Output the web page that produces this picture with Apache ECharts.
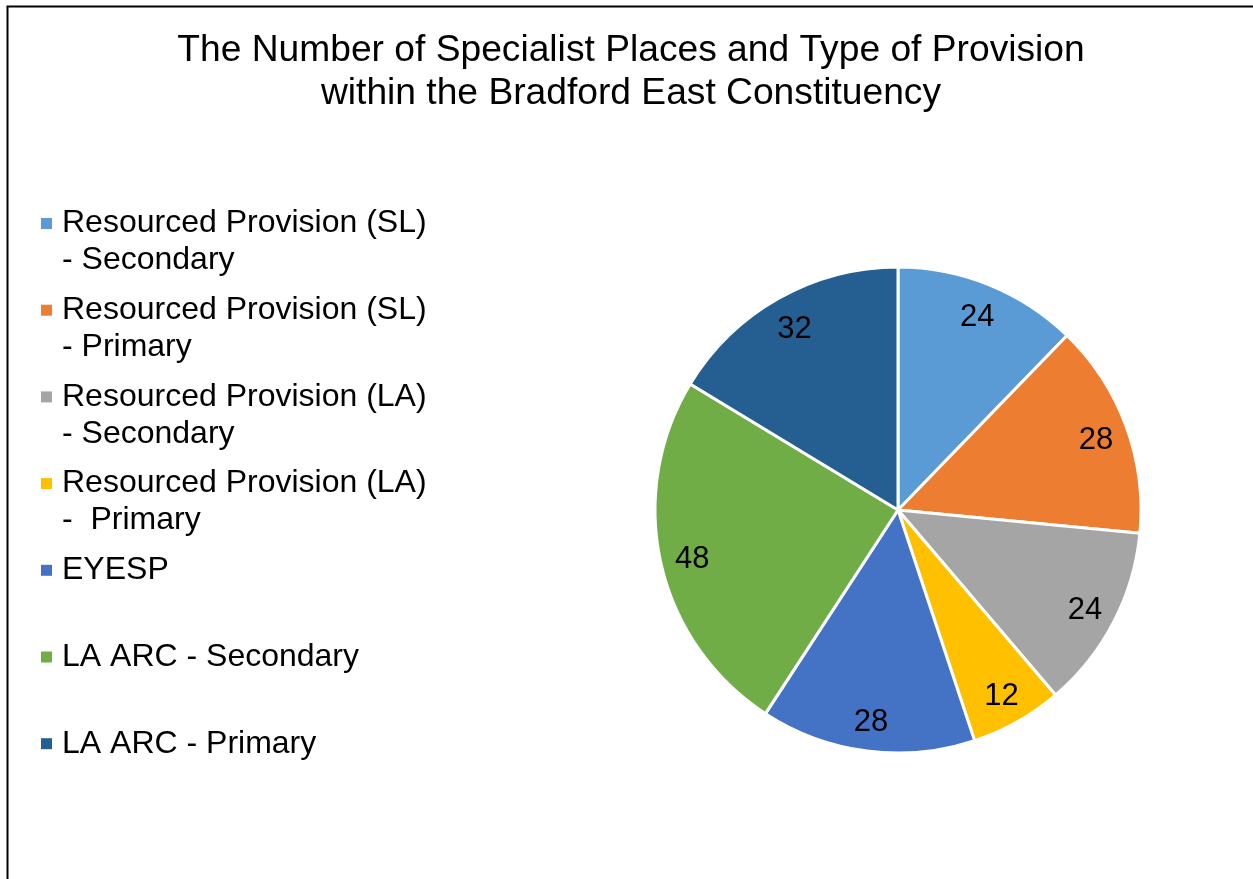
<!DOCTYPE html>
<html>
<head>
<meta charset="utf-8">
<script src="https://cdn.jsdelivr.net/npm/echarts@6/dist/echarts.min.js"></script>
<style>
  html, body { margin: 0; padding: 0; background: #fff; }
  #chart { width: 1253px; height: 879px; }
</style>
</head>
<body>
<div id="chart"></div>
<script>
const TITLE = 'The Number of Specialist Places and Type of Provision\nwithin the Bradford East Constituency'

const categories = [
  'Resourced Provision (SL)\n- Secondary',
  'Resourced Provision (SL)\n- Primary',
  'Resourced Provision (LA)\n- Secondary',
  'Resourced Provision (LA)\n-  Primary',
  'EYESP',
  'LA ARC - Secondary',
  'LA ARC - Primary'
]
const values = [24, 28, 24, 12, 28, 48, 32]

const COLORS = ['#5B9BD5', '#ED7D31', '#A5A5A5', '#FFC000', '#4472C4', '#70AD47', '#255E91']

const FONT = '"Liberation Sans", Arial, sans-serif'
const LEG_SIZE = 32
const LEG_LINE = 37

const pieData = categories.map((name, i) => ({ name, value: values[i] }))

// one legend block per entry so every entry keeps the same slot height.
// multi-line names get a blank line on top so the first line sits on the icon
const legends = categories.map((name, i) => {
  const lines = name.split('\n').length
  const iconTop = 218 + i * 86.7
  const blockHalf = (2 * lines - 1) * LEG_LINE / 2
  return {
    data: [name],
    orient: 'vertical',
    left: 41,
    top: iconTop - (blockHalf - 5.5),
    padding: 0,
    itemWidth: 11,
    itemHeight: 11,
    icon: 'rect',
    itemStyle: { borderWidth: 0 },
    selectedMode: false,
    formatter: n => (lines > 1 ? '\n'.repeat(lines - 1) + n : n),
    textStyle: {
      fontFamily: FONT,
      fontSize: LEG_SIZE,
      lineHeight: LEG_LINE,
      color: '#000',
      padding: [0, 0, 0, 5]
    }
  }
})

const chart = echarts.init(document.getElementById('chart'))
chart.setOption({
  animation: false,
  backgroundColor: '#fff',
  color: COLORS,
  title: {
    text: TITLE,
    left: 626,
    top: 24,
    textAlign: 'center',
    textStyle: { fontFamily: FONT, fontSize: 37.2, lineHeight: 43, fontWeight: 'normal', color: '#000' }
  },
  legend: legends,
  graphic: [{
    type: 'polyline',
    shape: { points: [[7.5, 879], [7.5, 6.5], [1253, 6.5]] },
    style: { stroke: '#000', lineWidth: 2, fill: null },
    silent: true
  }],
  series: [
    {
      type: 'pie',
      center: [898, 510],
      radius: 243,
      startAngle: 90,
      clockwise: true,
      data: pieData,
      label: { show: false },
      labelLine: { show: false },
      itemStyle: { borderColor: '#fff', borderWidth: 3 },
      emphasis: { disabled: true }
    },
    {
      // invisible ring that carries the value labels out near the rim
      type: 'pie',
      center: [898, 510],
      radius: [173, 243],
      startAngle: 90,
      clockwise: true,
      silent: true,
      data: pieData,
      itemStyle: { color: 'rgba(0,0,0,0)', borderWidth: 0 },
      label: {
        show: true,
        position: 'inside',
        formatter: '{c}',
        offset: [0, 3],
        fontFamily: FONT,
        fontSize: 31,
        color: '#000'
      },
      labelLine: { show: false },
      emphasis: { disabled: true }
    }
  ]
})
</script>
</body>
</html>
